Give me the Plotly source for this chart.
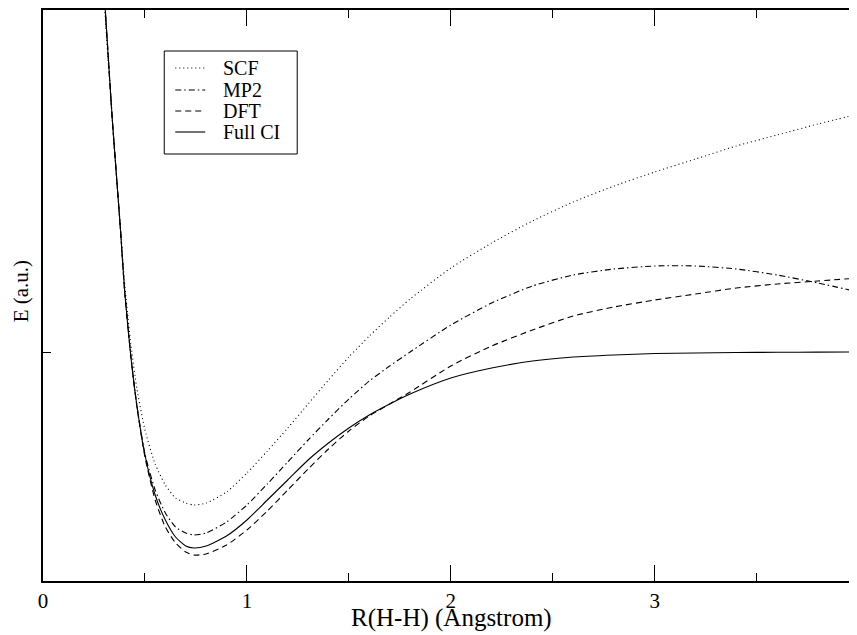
import plotly.graph_objects as go

# Bond length R(H-H) in Angstrom
r_grid = [0.29, 0.30, 0.32, 0.34, 0.36, 0.38, 0.40, 0.43, 0.46, 0.50, 0.55, 0.60, 0.65,
          0.70, 0.74, 0.80, 0.90, 1.0, 1.1, 1.2, 1.3, 1.4, 1.5, 1.6, 1.7, 1.8,
          2.0, 2.2, 2.4, 2.6, 2.8, 3.0, 3.2, 3.4, 3.6, 3.8, 4.0]

# Energies (a.u., relative to the dissociation limit)
e_scf = [0.380, 0.352, 0.290, 0.232, 0.178, 0.124, 0.069, 0.009, -0.036, -0.078,
         -0.112, -0.133, -0.146, -0.151, -0.153, -0.151, -0.140, -0.121, -0.099,
         -0.076, -0.052, -0.028, -0.005, 0.016, 0.035, 0.053, 0.084, 0.109, 0.131,
         0.150, 0.166, 0.180, 0.193, 0.206, 0.217, 0.228, 0.238]
e_mp2 = [0.389, 0.359, 0.295, 0.232, 0.177, 0.122, 0.062, -0.003, -0.053, -0.102,
         -0.138, -0.161, -0.175, -0.181, -0.183, -0.181, -0.170, -0.153, -0.132,
         -0.110, -0.088, -0.067, -0.047, -0.029, -0.014, 0.000, 0.027, 0.049, 0.066,
         0.077, 0.083, 0.086, 0.086, 0.083, 0.077, 0.069, 0.060]
e_dft = [0.389, 0.359, 0.295, 0.232, 0.177, 0.122, 0.062, -0.003, -0.054, -0.105,
         -0.148, -0.175, -0.191, -0.200, -0.203, -0.202, -0.193, -0.178, -0.159,
         -0.138, -0.117, -0.097, -0.079, -0.064, -0.052, -0.040, -0.014, 0.006, 0.022,
         0.036, 0.045, 0.052, 0.058, 0.064, 0.068, 0.071, 0.074]
e_fci = [0.389, 0.359, 0.295, 0.232, 0.177, 0.122, 0.062, -0.003, -0.053, -0.103,
         -0.143, -0.168, -0.185, -0.194, -0.196, -0.194, -0.184, -0.168, -0.148,
         -0.128, -0.108, -0.091, -0.076, -0.063, -0.052, -0.042, -0.026, -0.016,
         -0.009, -0.005, -0.003, -0.0015, -0.001, -0.0005, -0.0003, -0.0001, 0.0]

series = [
    ("SCF", e_scf, "1px,3px"),
    ("MP2", e_mp2, "6px,3px,1.5px,3px"),
    ("DFT", e_dft, "6px,4px"),
    ("Full CI", e_fci, "solid"),
]

x_ticks = [0, 1, 2, 3, 4]
x_tick_text = ["0", "1", "2", "3", "4"]

W, H = 857, 635
OFF = 8  # page body margin offsets the figure on screen
# screen-pixel frame of the original plot
S_LEFT, S_TOP, S_BOTTOM, S_X4 = 42.7, 10, 581, 858.7
L = S_LEFT - OFF
T = S_TOP - OFF
B = H - (S_BOTTOM - OFF)
R = 0
PW, PH = W - L - R, H - T - B
unit = (S_X4 - S_LEFT) / 4.0
x_max = PW / unit


def px_x(p):
    return (p - OFF - L) / PW


def px_y(p):
    return (H - B - (p - OFF)) / PH


font_family = "Liberation Serif"

fig = go.Figure()
for name, vals, dash in series:
    fig.add_trace(go.Scatter(
        x=r_grid, y=vals, mode="lines", name=name, showlegend=False,
        line=dict(color="black", width=1.1, dash=dash, shape="spline", smoothing=0.6),
    ))

# Hand-drawn legend box (to match the compact original spacing)
shapes = [dict(type="rect", xref="paper", yref="paper",
               x0=px_x(164), x1=px_x(297), y0=px_y(154), y1=px_y(51),
               line=dict(color="black", width=1), fillcolor="white", layer="above")]
annotations = []
row_y = [68, 90, 111, 132]
for (name, _, dash), ry in zip(series, row_y):
    shapes.append(dict(type="line", xref="paper", yref="paper",
                       x0=px_x(175), x1=px_x(205), y0=px_y(ry), y1=px_y(ry),
                       line=dict(color="black", width=1.1, dash=dash), layer="above"))
    annotations.append(dict(text=name, xref="paper", yref="paper",
                            x=px_x(221), y=px_y(ry), xanchor="left", yanchor="middle",
                            showarrow=False,
                            font=dict(family=font_family, size=20, color="black")))

annotations += [
    dict(text="R(H-H) (Angstrom)", xref="paper", yref="paper", x=px_x(451), y=px_y(618),
         xanchor="center", yanchor="middle", showarrow=False,
         font=dict(family=font_family, size=25, color="black")),
    dict(text="E (a.u.)", xref="paper", yref="paper", x=px_x(21), y=px_y(291),
         xanchor="center", yanchor="middle", showarrow=False, textangle=-90,
         font=dict(family=font_family, size=21, color="black")),
]

fig.update_layout(
    width=W, height=H,
    margin=dict(l=L, r=R, t=T, b=B, autoexpand=False, pad=0),
    paper_bgcolor="white", plot_bgcolor="white",
    font=dict(family=font_family, size=20, color="black"),
    showlegend=False,
    xaxis=dict(
        range=[0, x_max], automargin=False,
        tickvals=x_ticks, ticktext=x_tick_text,
        ticks="inside", ticklen=16, tickwidth=1, tickcolor="black",
        minor=dict(dtick=0.5, tick0=0, ticks="inside", ticklen=8, tickwidth=1, tickcolor="black"),
        showline=True, linecolor="black", linewidth=2, mirror="allticks",
        showgrid=False, zeroline=False,
        tickfont=dict(family=font_family, size=21, color="black"),
    ),
    yaxis=dict(
        range=[-0.229, 0.342], automargin=False,
        tickvals=[0], ticktext=[""],
        ticks="inside", ticklen=8, tickwidth=1, tickcolor="black",
        showline=True, linecolor="black", linewidth=2, mirror=False,
        showgrid=False, zeroline=False,
    ),
    shapes=shapes,
    annotations=annotations,
)

fig.write_html("out.html")
